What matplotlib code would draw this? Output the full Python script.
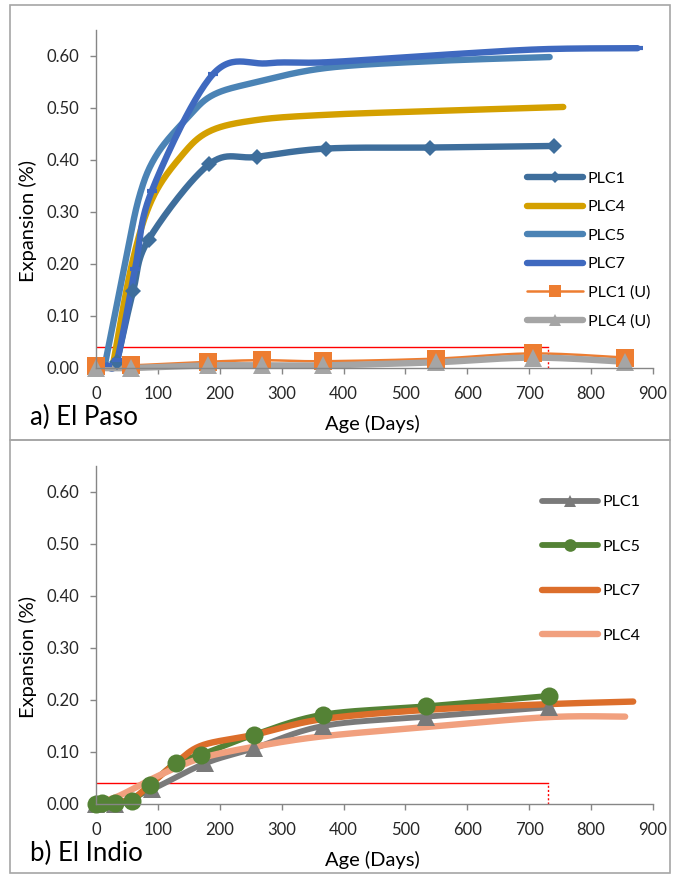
import matplotlib.pyplot as plt
import numpy as np
from matplotlib.patches import Rectangle

# ---- a) El Paso ----
paso_plc1_days = [34, 60, 85, 183, 260, 372, 540, 740]
paso_plc1_exp = [0.012, 0.148, 0.247, 0.392, 0.406, 0.422, 0.424, 0.427]
paso_plc4_days = [28, 58, 90, 136, 183, 260, 373, 540, 755]
paso_plc4_exp = [0.010, 0.200, 0.323, 0.405, 0.455, 0.477, 0.487, 0.494, 0.502]
paso_plc5_days = [15, 45, 70, 98, 147, 189, 260, 372, 540, 733]
paso_plc5_exp = [0.010, 0.190, 0.330, 0.410, 0.480, 0.525, 0.550, 0.577, 0.590, 0.598]
paso_plc7_days = [18, 34, 63, 90, 189, 278, 373, 556, 720, 875]
paso_plc7_exp = [0.005, 0.015, 0.190, 0.340, 0.565, 0.586, 0.588, 0.602, 0.613, 0.615]
paso_u_days = [0, 57, 181, 268, 367, 549, 706, 855]
paso_plc1u_exp = [0.004, 0.005, 0.012, 0.015, 0.013, 0.018, 0.028, 0.020]
paso_plc4u_exp = [0.000, 0.000, 0.005, 0.005, 0.005, 0.011, 0.020, 0.012]

# ---- b) El Indio ----
indio_plc1_days = [0, 30, 90, 176, 255, 367, 534, 732]
indio_plc1_exp = [0.000, 0.000, 0.028, 0.078, 0.107, 0.150, 0.168, 0.186]
indio_plc5_days = [0, 10, 30, 58, 87, 129, 170, 255, 367, 534, 732]
indio_plc5_exp = [0.000, 0.001, 0.002, 0.006, 0.036, 0.079, 0.095, 0.133, 0.172, 0.188, 0.208]
indio_plc7_days = [10, 30, 60, 90, 130, 172, 255, 365, 534, 730, 868]
indio_plc7_exp = [0.000, 0.002, 0.011, 0.040, 0.080, 0.113, 0.133, 0.163, 0.181, 0.192, 0.197]
indio_plc4_days = [0, 30, 55, 90, 130, 175, 255, 365, 534, 730, 855]
indio_plc4_exp = [0.000, 0.012, 0.026, 0.048, 0.070, 0.090, 0.110, 0.130, 0.148, 0.167, 0.168]

limit_days = 730
limit_exp = 0.04
x_ticks = list(range(0, 1000, 100))
y_ticks = [0.0, 0.1, 0.2, 0.3, 0.4, 0.5, 0.6]

plt.rcParams['font.family'] = ['Lato', 'DejaVu Sans']
AXIS_GRAY = '#868686'


def smooth(x, y, n=30):
    # Excel-style smoothed line: Catmull-Rom segments as cubic Bezier
    p = np.column_stack([x, y]).astype(float)
    pad = np.vstack([p[:1], p, p[-1:]])
    t = np.linspace(0, 1, n)[:, None]
    out = []
    for i in range(len(p) - 1):
        p0, p3 = p[i], p[i + 1]
        c1 = p0 + (pad[i + 2] - pad[i]) / 6
        c2 = p3 - (pad[i + 3] - pad[i + 1]) / 6
        seg = ((1 - t) ** 3) * p0 + 3 * ((1 - t) ** 2) * t * c1 + 3 * (1 - t) * t ** 2 * c2 + t ** 3 * p3
        out.append(seg if i == 0 else seg[1:])
    out = np.vstack(out)
    return out[:, 0], out[:, 1]


def series(ax, x, y, color, lw, label, marker=None, ms=0, mew=0, z=2):
    sx, sy = smooth(x, y)
    ax.plot(sx, sy, color=color, lw=lw, solid_capstyle='round', clip_on=False, zorder=z)
    if marker:
        ax.plot(x, y, ls='none', marker=marker, ms=ms, color=color, mew=mew, mec=color,
                clip_on=False, zorder=z + 0.1)
    handle, = ax.plot([], [], color=color, lw=lw, solid_capstyle='round',
                      marker=marker if marker else None, ms=ms * 0.7, mew=mew, mec=color, label=label)
    return handle


def style_axes(ax, panel_label):
    ax.set_xlim(0, 900)
    ax.set_ylim(0, 0.65)
    ax.set_xticks(x_ticks)
    ax.set_yticks(y_ticks)
    ax.set_yticklabels([f'{v:.2f}' for v in y_ticks])
    for s in ['top', 'right']:
        ax.spines[s].set_visible(False)
    for s in ['left', 'bottom']:
        ax.spines[s].set_color(AXIS_GRAY)
        ax.spines[s].set_linewidth(1.0)
    ax.tick_params(axis='both', direction='out', length=4, width=1.0, color=AXIS_GRAY,
                   labelsize=12, labelcolor='#262626')
    ax.tick_params(axis='y', pad=8)
    ax.tick_params(axis='x', pad=9)
    ax.set_ylabel('Expansion (%)', fontsize=14.5, va='center')
    ax.yaxis.set_label_coords(-0.122, 0.435)
    ax.set_xlabel('Age (Days)', fontsize=14.5, va='center')
    ax.xaxis.set_label_coords(0.497, -0.165)
    ax.text(-0.118, -0.145, panel_label, transform=ax.transAxes, fontsize=18.5,
            ha='left', va='center')
    # limit line
    ax.plot([0, limit_days], [limit_exp, limit_exp], color='#FF0000', lw=1.0, zorder=1.5)
    ax.plot([limit_days, limit_days], [0, limit_exp], color='#FF0000', lw=1.0, ls=(0, (1.5, 1.5)),
            zorder=1.5)


fig = plt.figure(figsize=(6.74, 8.74), dpi=100)
fig.patches.append(Rectangle((10 / 674, (874 - 440) / 874), 660 / 674, 435 / 874,
                             transform=fig.transFigure, fill=False, ec='#A6A6A6', lw=1.2))
fig.patches.append(Rectangle((10 / 674, 0.001), 660 / 674, (434 - 1) / 874,
                             transform=fig.transFigure, fill=False, ec='#A6A6A6', lw=1.2))

ax1 = fig.add_axes([96 / 674, (874 - 368) / 874, 557 / 674, 338 / 874])
style_axes(ax1, 'a) El Paso')
h = []
h.append(series(ax1, paso_plc1_days, paso_plc1_exp, '#3E6E9C', 4.6, 'PLC1', 'D', 8.5))
h.append(series(ax1, paso_plc4_days, paso_plc4_exp, '#D4A000', 4.6, 'PLC4'))
h.append(series(ax1, paso_plc5_days, paso_plc5_exp, '#4B83B5', 4.6, 'PLC5'))
h.append(series(ax1, paso_plc7_days, paso_plc7_exp, '#3F69BF', 4.6, 'PLC7', '_', 7, 3))
h.append(series(ax1, paso_u_days, paso_plc1u_exp, '#ED7D31', 1.8, 'PLC1 (U)', 's', 13))
h.append(series(ax1, paso_u_days, paso_plc4u_exp, '#A5A5A5', 4.6, 'PLC4 (U)', '^', 13))
ax1.legend(handles=h, loc='center left', bbox_to_anchor=(0.774, 0.349), frameon=False,
           fontsize=11.5, handlelength=3.5, handletextpad=0.3, labelspacing=0.9,
           borderpad=0, borderaxespad=0, numpoints=1)

ax2 = fig.add_axes([96 / 674, 70 / 874, 557 / 674, 338 / 874])
style_axes(ax2, 'b) El Indio')
h = []
h.append(series(ax2, indio_plc1_days, indio_plc1_exp, '#7A7A7A', 4.2, 'PLC1', '^', 13))
h.append(series(ax2, indio_plc5_days, indio_plc5_exp, '#548235', 4.2, 'PLC5', 'o', 13))
h.append(series(ax2, indio_plc7_days, indio_plc7_exp, '#DC6E2B', 4.6, 'PLC7'))
h.append(series(ax2, indio_plc4_days, indio_plc4_exp, '#F1A07E', 4.6, 'PLC4'))
ax2.legend(handles=h, loc='center left', bbox_to_anchor=(0.801, 0.695), frameon=False,
           fontsize=11.5, handlelength=3.5, handletextpad=0.3, labelspacing=1.9,
           borderpad=0, borderaxespad=0, numpoints=1)

fig.savefig('out.png', dpi=100)
